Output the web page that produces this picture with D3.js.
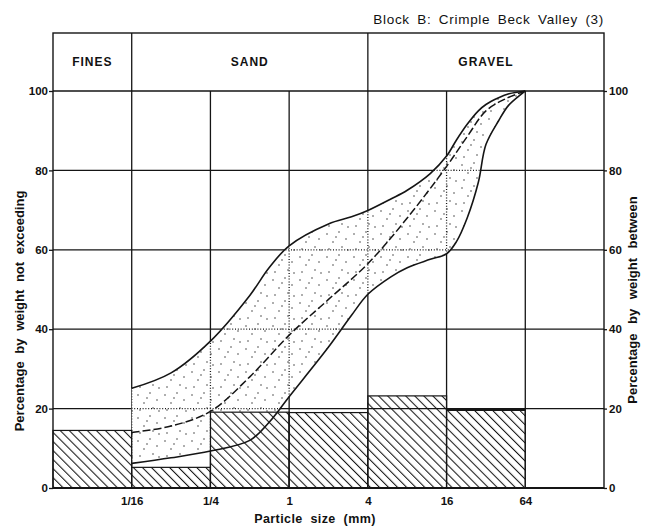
<!DOCTYPE html>
<html>
<head>
<meta charset="utf-8">
<script src="https://cdn.jsdelivr.net/npm/d3@7"></script>
<style>
  body { margin: 0; background: #fff; }
  svg text { font-family: 'Liberation Sans', Arial, sans-serif; fill: #111; }
</style>
</head>
<body>
<div class="chart-container"></div>
<script>
// size classes and ticks
let sizeTicks = [1 / 16, 1 / 4, 1, 4, 16, 64]
let sizeLabels = ['1/16', '1/4', '1', '4', '16', '64']
let pctTicks = [0, 20, 40, 60, 80, 100]
let classNames = ['FINES', 'SAND', 'GRAVEL']
let classEdges = [1 / 64, 1 / 16, 4, 256]

// histogram (percentage by weight between)
let binEdges = [1 / 64, 1 / 16, 1 / 4, 1, 4, 16, 64]
let binPercent = [14.5, 5.2, 19.1, 19, 23.2, 19.7]

// envelope of grading curves (percentage by weight not exceeding)
let envSizes = [1 / 16, 1 / 8, 1 / 4, 1 / 2, 0.7, 1, 2, 3, 4, 6, 8, 12, 16, 19, 23, 28, 32, 40, 48, 64]
let upperPct = [25.1, 29, 37, 48.5, 55.4, 61, 66.5, 68.3, 69.9, 72.8, 75, 79.2, 83.6, 87.6, 91.6, 95, 96.6, 98.3, 99.3, 100]
let lowerPct = [6.2, 7.6, 9.3, 12, 16.5, 23, 35.5, 43.5, 48.8, 53.2, 55.5, 57.6, 59, 62, 68, 77, 86.5, 92.5, 96.5, 100]

// mean grading curve
let meanSizes = [1 / 16, 1 / 8, 1 / 4, 1 / 2, 1, 2, 4, 8, 16, 23, 32, 45, 64]
let meanPct = [14, 15.6, 19.3, 28, 38.5, 47.5, 56.5, 68, 81, 88.5, 95, 98, 100]

let width = 646,
    height = 526,
    plotLeft = 53,
    plotRight = 604,
    plotTop = 91,
    plotBottom = 488,
    headerTop = 33,
    ink = '#151515'

let x = d3.scaleLog().base(4).domain([1 / 64, 256]).range([plotLeft, plotRight])
let y = d3.scaleLinear().domain([0, 100]).range([plotBottom, plotTop])

let svg = d3.select('.chart-container')
  .append('svg')
  .attr('width', width)
  .attr('height', height)

let defs = svg.append('defs')

// diagonal hatching for the histogram
let hatch = defs.append('pattern')
  .attr('id', 'hatch')
  .attr('patternUnits', 'userSpaceOnUse')
  .attr('width', 6.4)
  .attr('height', 6.4)
  .attr('patternTransform', 'rotate(-45)')
hatch.append('rect').attr('width', 6.4).attr('height', 6.4).attr('fill', '#fff')
hatch.append('line')
  .attr('x1', 0.5).attr('y1', 0).attr('x2', 0.5).attr('y2', 6.4)
  .attr('stroke', ink).attr('stroke-width', 1.1)

// stipple for the envelope
let dots = [[3, 4], [15, 2], [22, 9], [9, 12], [18, 17], [5, 19], [12, 7], [24, 20]]
let stipple = defs.append('pattern')
  .attr('id', 'stipple')
  .attr('patternUnits', 'userSpaceOnUse')
  .attr('width', 27)
  .attr('height', 23)
stipple.selectAll('circle')
  .data(dots)
  .enter()
  .append('circle')
  .attr('cx', d => d[0])
  .attr('cy', d => d[1])
  .attr('r', 0.75)
  .attr('fill', '#333')

let smooth = d3.curveCatmullRom.alpha(0.5)

let band = d3.area()
  .x((d, i) => x(envSizes[i]))
  .y0((d, i) => y(lowerPct[i]))
  .y1((d, i) => y(upperPct[i]))
  .curve(smooth)

defs.append('clipPath')
  .attr('id', 'band-clip')
  .append('path')
  .attr('d', band(envSizes))

let bars = binPercent.map((v, i) => ({ x0: binEdges[i], x1: binEdges[i + 1], v: v }))

defs.append('clipPath')
  .attr('id', 'bar-clip')
  .selectAll('rect')
  .data(bars)
  .enter()
  .append('rect')
  .attr('x', d => x(d.x0))
  .attr('y', d => y(d.v))
  .attr('width', d => x(d.x1) - x(d.x0))
  .attr('height', d => y(0) - y(d.v))

function drawGrid(g, dotted) {
  g.selectAll('.h')
    .data(pctTicks.slice(1, 5))
    .enter()
    .append('line')
    .attr('x1', plotLeft).attr('x2', plotRight)
    .attr('y1', d => y(d)).attr('y2', d => y(d))
  g.selectAll('.v')
    .data(sizeTicks)
    .enter()
    .append('line')
    .attr('x1', d => x(d)).attr('x2', d => x(d))
    .attr('y1', y(100)).attr('y2', y(0))
  g.selectAll('line')
    .attr('stroke', ink)
    .attr('stroke-width', 1.3)
    .attr('stroke-dasharray', dotted ? '1,1.8' : null)
}

// plain grid
drawGrid(svg.append('g'), false)

// envelope: white, dotted grid inside, stipple
svg.append('path').attr('d', band(envSizes)).attr('fill', '#fff')
drawGrid(svg.append('g').attr('clip-path', 'url(#band-clip)'), true)
svg.append('path').attr('d', band(envSizes)).attr('fill', 'url(#stipple)')

// histogram bars
svg.append('g')
  .selectAll('rect')
  .data(bars)
  .enter()
  .append('rect')
  .attr('x', d => x(d.x0))
  .attr('y', d => y(d.v))
  .attr('width', d => x(d.x1) - x(d.x0))
  .attr('height', d => y(0) - y(d.v))
  .attr('fill', 'url(#hatch)')
  .attr('stroke', ink)
  .attr('stroke-width', 1.2)

// grid lines showing through the bars
drawGrid(svg.append('g').attr('clip-path', 'url(#bar-clip)'), false)

svg.append('line')
  .attr('x1', x(16)).attr('x2', x(64))
  .attr('y1', y(binPercent[5])).attr('y2', y(binPercent[5]))
  .attr('stroke', ink).attr('stroke-width', 2.2)

// envelope outline and mean curve
let curve = d3.line().curve(smooth)

svg.append('path')
  .attr('d', curve(envSizes.map((s, i) => [x(s), y(upperPct[i])])))
  .attr('fill', 'none').attr('stroke', ink).attr('stroke-width', 1.6)
svg.append('path')
  .attr('d', curve(envSizes.map((s, i) => [x(s), y(lowerPct[i])])))
  .attr('fill', 'none').attr('stroke', ink).attr('stroke-width', 1.6)
svg.append('path')
  .attr('d', curve(meanSizes.map((s, i) => [x(s), y(meanPct[i])])))
  .attr('fill', 'none').attr('stroke', ink).attr('stroke-width', 1.5)
  .attr('stroke-dasharray', '8,3')

// header with size classes
svg.append('rect')
  .attr('x', plotLeft).attr('y', headerTop)
  .attr('width', plotRight - plotLeft).attr('height', plotBottom - headerTop)
  .attr('fill', 'none').attr('stroke', ink).attr('stroke-width', 1.4)
svg.append('line')
  .attr('x1', plotLeft).attr('x2', plotRight)
  .attr('y1', y(100)).attr('y2', y(100))
  .attr('stroke', ink).attr('stroke-width', 1.4)
svg.selectAll('.cls-edge')
  .data(classEdges.slice(1, 3))
  .enter()
  .append('line')
  .attr('x1', d => x(d)).attr('x2', d => x(d))
  .attr('y1', headerTop).attr('y2', y(100))
  .attr('stroke', ink).attr('stroke-width', 1.3)
svg.selectAll('.cls-name')
  .data(classNames)
  .enter()
  .append('text')
  .attr('x', (d, i) => (x(classEdges[i]) + x(classEdges[i + 1])) / 2)
  .attr('y', 66)
  .attr('text-anchor', 'middle')
  .attr('font-size', 12)
  .attr('font-weight', 'bold')
  .attr('letter-spacing', 1)
  .text(d => d)

// axes
let axisLeft = svg.append('g')
  .attr('transform', `translate(${plotLeft},0)`)
  .call(d3.axisLeft(y).tickValues(pctTicks).tickSize(4).tickPadding(1))
let axisRight = svg.append('g')
  .attr('transform', `translate(${plotRight},0)`)
  .call(d3.axisRight(y).tickValues(pctTicks).tickSize(3).tickPadding(2))
let axisBottom = svg.append('g')
  .attr('transform', `translate(0,${plotBottom})`)
  .call(d3.axisBottom(x).tickValues(sizeTicks).tickSize(0).tickPadding(9)
    .tickFormat((d, i) => sizeLabels[i]))

;[axisLeft, axisRight, axisBottom].forEach(a => {
  a.select('.domain').remove()
  a.selectAll('line').attr('stroke', ink).attr('stroke-width', 1.3)
  a.selectAll('text')
    .attr('font-size', 11.5)
    .attr('font-weight', 'bold')
    .style('font-family', "'Liberation Sans', Arial, sans-serif")
    .attr('fill', ink)
})
svg.append('line')
  .attr('x1', plotLeft).attr('x2', plotRight)
  .attr('y1', plotBottom).attr('y2', plotBottom)
  .attr('stroke', ink).attr('stroke-width', 2)

// titles
svg.append('text')
  .attr('x', plotRight)
  .attr('y', 24)
  .attr('text-anchor', 'end')
  .attr('font-size', 13.5)
  .attr('letter-spacing', 0.7)
  .attr('word-spacing', 3)
  .text('Block B: Crimple Beck Valley (3)')

svg.append('text')
  .attr('transform', 'translate(24,311) rotate(-90)')
  .attr('text-anchor', 'middle')
  .attr('font-size', 13)
  .attr('font-weight', 'bold')
  .attr('word-spacing', 4)
  .text('Percentage by weight not exceeding')

svg.append('text')
  .attr('transform', 'translate(637,300) rotate(-90)')
  .attr('text-anchor', 'middle')
  .attr('font-size', 13)
  .attr('font-weight', 'bold')
  .attr('word-spacing', 6)
  .text('Percentage by weight between')

svg.append('text')
  .attr('x', 315)
  .attr('y', 523)
  .attr('text-anchor', 'middle')
  .attr('font-size', 12.5)
  .attr('font-weight', 'bold')
  .attr('letter-spacing', 0.4)
  .attr('word-spacing', 4)
  .text('Particle size (mm)')
</script>
</body>
</html>
